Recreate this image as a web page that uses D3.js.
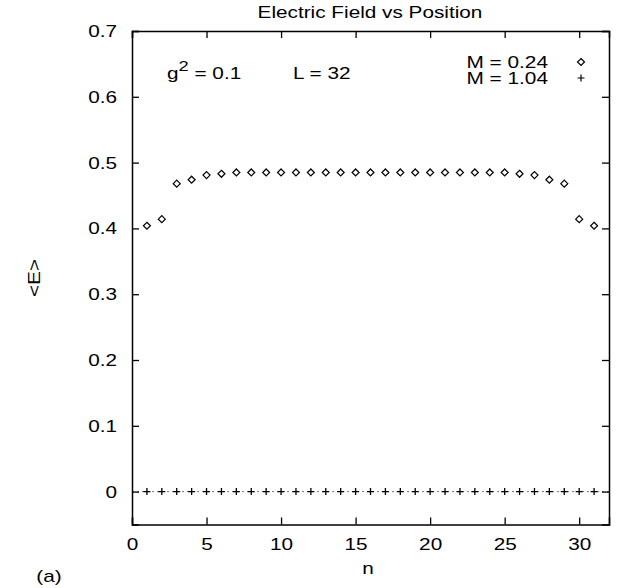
<!DOCTYPE html>
<html lang="en">
<head>
<meta charset="utf-8">
<title>Electric Field vs Position</title>
<script src="https://cdn.jsdelivr.net/npm/d3@7"></script>
<style>
  body { margin: 0; background: #fff; }
  text { font-family: "Liberation Sans", Arial, sans-serif; fill: #000; }
</style>
</head>
<body>
<script>
// data
var positions = d3.range(1, 32); // n = 1..31
var fieldLowM = [0.404, 0.414, 0.468, 0.474, 0.481, 0.483, 0.485, 0.485, 0.485, 0.485,
                 0.485, 0.485, 0.485, 0.485, 0.485, 0.485, 0.485, 0.485, 0.485, 0.485,
                 0.485, 0.485, 0.485, 0.485, 0.485, 0.483, 0.481, 0.474, 0.468, 0.414, 0.404];
var fieldHighM = positions.map(function() { return 0; });
var xTicks = [0, 5, 10, 15, 20, 25, 30];
var yTicks = [0, 0.1, 0.2, 0.3, 0.4, 0.5, 0.6, 0.7];
var legendLabels = ["M = 0.24", "M = 1.04"];

var w = 631, h = 588;
var pLeft = 132, pRight = 609, pTop = 31, pBottom = 524.5;
var fs = 17;

var x = d3.scaleLinear().domain([0, 32]).range([pLeft, pRight]);
var y = d3.scaleLinear().domain([-0.05, 0.7]).range([pBottom, pTop]);

var svg = d3.select("body").append("svg")
  .attr("width", w).attr("height", h);

// zero line (dotted)
svg.append("line")
  .attr("x1", x(0)).attr("x2", x(32))
  .attr("y1", y(0)).attr("y2", y(0))
  .attr("stroke", "#777").attr("stroke-width", 1)
  .attr("stroke-dasharray", "2,3");

// axes: ticks pointing inward on all four sides
var tickLen = 7;
svg.append("g").attr("transform", "translate(0," + pBottom + ")")
  .call(d3.axisBottom(x).tickValues(xTicks).tickSize(-tickLen).tickPadding(13).tickFormat(d3.format("d")));
svg.append("g").attr("transform", "translate(0," + pTop + ")")
  .call(d3.axisTop(x).tickValues(xTicks).tickSize(-tickLen).tickFormat(""));
svg.append("g").attr("transform", "translate(" + pLeft + ",0)")
  .call(d3.axisLeft(y).tickValues(yTicks).tickSize(-tickLen).tickPadding(15)
    .tickFormat(function(d) { return d === 0 ? "0" : d3.format(".1f")(d); }));
svg.append("g").attr("transform", "translate(" + pRight + ",0)")
  .call(d3.axisRight(y).tickValues(yTicks).tickSize(-tickLen).tickFormat(""));

svg.selectAll(".domain").attr("stroke", "#000").attr("stroke-width", 1.5);
svg.selectAll(".tick line").attr("stroke", "#000").attr("stroke-width", 1.3);
svg.selectAll(".tick text").attr("font-size", fs).attr("font-family", "'Liberation Sans', Arial, sans-serif");

// marker shapes
var dia = "M0,-3.5L3.5,0L0,3.5L-3.5,0Z";
var plus = "M-3.5,0H3.5M0,-3.5V3.5";

svg.append("g").selectAll("path")
  .data(positions)
  .enter().append("path")
  .attr("transform", function(d, i) { return "translate(" + x(d) + "," + y(fieldLowM[i]) + ")"; })
  .attr("d", dia)
  .attr("fill", "#fff").attr("stroke", "#000").attr("stroke-width", 1.2);

svg.append("g").selectAll("path")
  .data(positions)
  .enter().append("path")
  .attr("transform", function(d, i) { return "translate(" + x(d) + "," + y(fieldHighM[i]) + ")"; })
  .attr("d", plus)
  .attr("fill", "none").attr("stroke", "#000").attr("stroke-width", 1.3);

// title and axis labels
svg.append("text").attr("x", 370).attr("y", 18).attr("text-anchor", "middle")
  .attr("font-size", fs).text("Electric Field vs Position");
svg.append("text").attr("x", 368).attr("y", 574).attr("text-anchor", "middle")
  .attr("font-size", fs).text("n");
svg.append("text").attr("transform", "translate(40,278) rotate(-90)").attr("text-anchor", "middle")
  .attr("font-size", fs).text("<E>");
svg.append("text").attr("x", 49).attr("y", 582).attr("text-anchor", "middle")
  .attr("font-size", fs).text("(a)");

// annotations
var g2 = svg.append("text").attr("x", 167).attr("y", 79).attr("font-size", fs);
g2.append("tspan").text("g");
g2.append("tspan").attr("dy", -8).attr("font-size", 15).text("2");
g2.append("tspan").attr("dy", 8).text(" = 0.1");
svg.append("text").attr("x", 293).attr("y", 79).attr("font-size", fs).text("L = 32");

// legend
var legend = svg.append("g");
legendLabels.forEach(function(lab, i) {
  var ly = 62 + i * 16;
  legend.append("text").attr("x", 548).attr("y", ly + 6).attr("text-anchor", "end")
    .attr("font-size", 16).text(lab);
  legend.append("path").attr("transform", "translate(581," + ly + ")")
    .attr("d", i === 0 ? dia : plus)
    .attr("fill", i === 0 ? "#fff" : "none").attr("stroke", "#000").attr("stroke-width", 1.2);
});

// the original lettering is wider than Liberation Sans: stretch each text a bit
svg.selectAll("text").each(function() {
  var len = this.getComputedTextLength();
  var k = this.getAttribute("font-size") === "16" ? 1.3 : 1.22;
  if (len > 0) d3.select(this).attr("textLength", len * k).attr("lengthAdjust", "spacingAndGlyphs");
});
</script>
</body>
</html>
